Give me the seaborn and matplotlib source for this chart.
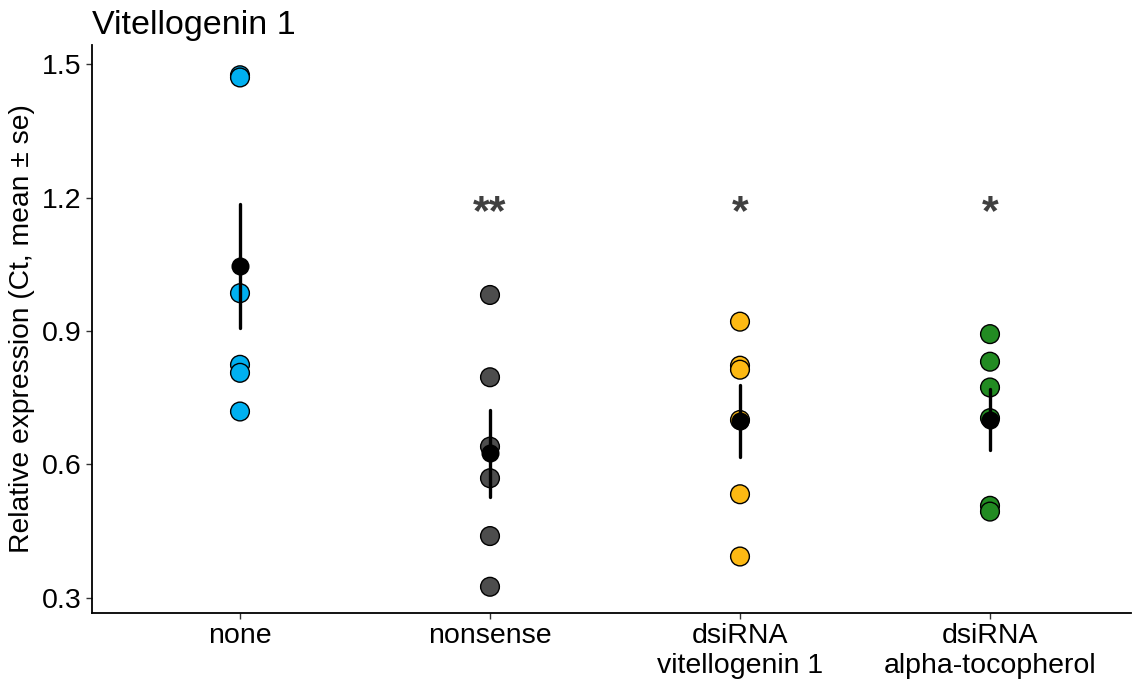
import numpy as np
import pandas as pd
import matplotlib
matplotlib.use("Agg")
import matplotlib.pyplot as plt
import seaborn as sns

# ---- data ----
categories = ["none", "nonsense", "dsiRNA\nvitellogenin 1", "dsiRNA\nalpha-tocopherol"]
vals_none = [1.475, 1.470, 0.985, 0.824, 0.806, 0.719]
vals_nonsense = [0.981, 0.796, 0.640, 0.569, 0.439, 0.325]
vals_dsi_vit = [0.921, 0.822, 0.813, 0.700, 0.533, 0.393]
vals_dsi_alpha = [0.893, 0.831, 0.773, 0.704, 0.507, 0.494]
stars = ["", "**", "*", "*"]
star_y = 1.165
colors = ["#00B0F0", "#4D4D4D", "#FDB913", "#228B22"]

groups = [vals_none, vals_nonsense, vals_dsi_vit, vals_dsi_alpha]
df = pd.DataFrame({
    "group": np.repeat(categories, [len(g) for g in groups]),
    "value": np.concatenate(groups),
})

sns.set_theme(style="ticks")
plt.rcParams["font.family"] = ["Liberation Sans", "DejaVu Sans"]

fig = plt.figure(figsize=(11.32, 6.84), dpi=100)
ax = fig.add_axes([92 / 1132, 71 / 684, 1039 / 1132, 568 / 684])

sns.stripplot(data=df, x="group", y="value", hue="group", order=categories,
              hue_order=categories, palette=colors, jitter=False, size=13.5,
              linewidth=1.0, edgecolor="black", legend=False, ax=ax, zorder=2)
sns.pointplot(data=df, x="group", y="value", order=categories, errorbar="se",
              color="black", linestyle="none", markers="o", markersize=11,
              err_kws={"linewidth": 2.4}, ax=ax, zorder=5)

for i, s in enumerate(stars):
    if s:
        ax.text(i, star_y, s, ha="center", va="center", fontsize=31,
                fontweight="bold", color="#404040", zorder=6)

ax.set_xlim(-0.592, 3.564)
ax.set_ylim(0.266, 1.543)
ax.set_yticks([0.3, 0.6, 0.9, 1.2, 1.5])
ax.set_yticklabels(["0.3", "0.6", "0.9", "1.2", "1.5"])
ax.set_xlabel("")
ax.set_ylabel("Relative expression (Ct, mean ± se)", fontsize=20.3, color="black", labelpad=5)
ax.tick_params(axis="both", labelsize=20.5, colors="#333333", labelcolor="black",
               length=4, width=1.0, direction="out")
for side in ["top", "right"]:
    ax.spines[side].set_visible(False)
for side in ["left", "bottom"]:
    ax.spines[side].set_linewidth(1.3)
    ax.spines[side].set_color("black")
ax.grid(False)
ax.set_title("Vitellogenin 1", loc="left", fontsize=24.5, color="black", pad=8)

fig.savefig("out.png", dpi=100)
